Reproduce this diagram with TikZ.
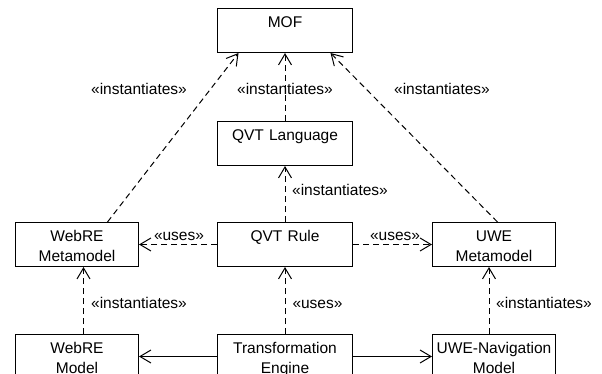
\documentclass[tikz,border=0pt]{standalone}
\usepackage{fontspec}
\setmainfont{Liberation Sans}
\usetikzlibrary{arrows.meta}
\begin{document}
\begin{tikzpicture}[x=1pt,y=-1pt,
  font=\fontsize{15.5}{19.5}\selectfont,
  cls/.style={draw, line width=1pt, anchor=north west, inner xsep=0pt, inner ysep=0pt,
              align=center, text height=19pt, text depth=25pt},
  mid/.style={cls, text width=135pt},
  side/.style={cls, text width=123pt},
  tip/.style={-{Straight Barb[length=11pt,width=13pt]}},
  dep/.style={draw, line width=1pt, dash pattern=on 6pt off 4pt, tip},
  assoc/.style={draw, line width=1pt, tip},
  stereo/.style={anchor=base, inner sep=0pt}
]
\useasboundingbox (0,0) rectangle (602,374);
\clip (0,0) rectangle (602,374);

% classes
\node[mid]  (mof)      at (217,8)   {MOF};
\node[mid]  (qvtlang)  at (217,121) {QVT Language};
\node[mid]  (qvtrule)  at (217,222) {QVT Rule};
\node[side] (webremm)  at (15,222)  {WebRE\\Metamodel};
\node[side] (uwemm)    at (432,222) {UWE\\Metamodel};
\node[side] (webrem)   at (15,334)  {WebRE\\Model};
\node[mid]  (engine)   at (217,334) {Transformation\\Engine};
\node[side] (uwenav)   at (432,334) {UWE-Navigation\\Model};

% dependencies
\draw[dep] ([xshift=30.5pt]webremm.north) -- ([xshift=-46.5pt]mof.south);
\draw[dep] (qvtlang.north) -- (mof.south);
\draw[dep] ([xshift=3.5pt]uwemm.north) -- ([xshift=45.5pt]mof.south);
\draw[dep] (qvtrule.north) -- (qvtlang.south);
\draw[dep] (qvtrule.west) -- (webremm.east);
\draw[dep] (qvtrule.east) -- (uwemm.west);
\draw[dep] ([xshift=6.5pt]webrem.north) -- ([xshift=6.5pt]webremm.south);
\draw[dep] (engine.north) -- (qvtrule.south);
\draw[dep] ([xshift=-5pt]uwenav.north) -- ([xshift=-5pt]uwemm.south);

% associations
\draw[assoc] (engine.west) -- (webrem.east);
\draw[assoc] (engine.east) -- (uwenav.west);

% stereotypes
\node[stereo] (s1) at (139,94.5) {«instantiates»};
\node[stereo] (s2) at (285,94.5) {«instantiates»};
\node[stereo] (s3) at (442,94.5) {«instantiates»};
\node[stereo] (s4) at (340,196)  {«instantiates»};
\node[stereo] (s5) at (179,240)  {«uses»};
\node[stereo] (s6) at (395,240)  {«uses»};
\node[stereo] (s7) at (139,308)  {«instantiates»};
\node[stereo] (s8) at (317.5,308) {«uses»};
\node[stereo] (s9) at (544,308)  {«instantiates»};
\end{tikzpicture}
\end{document}
